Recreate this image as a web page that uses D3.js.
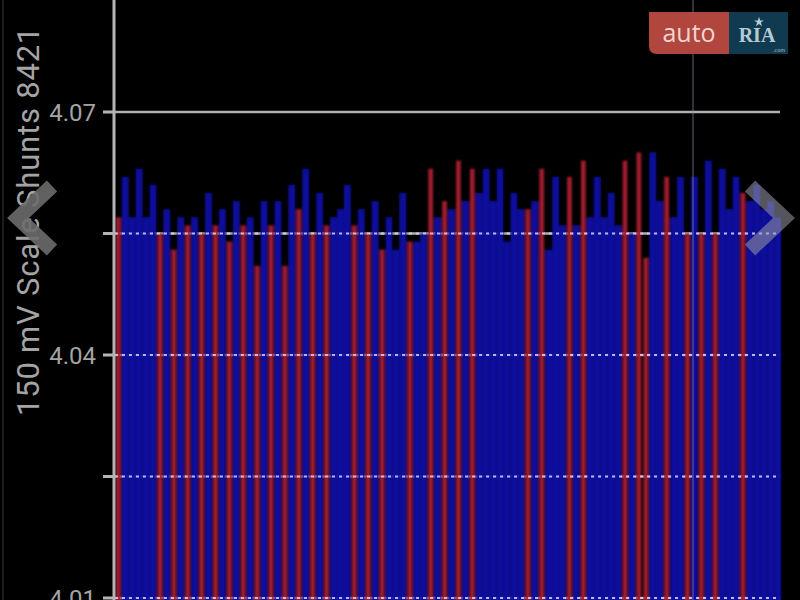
<!DOCTYPE html>
<html>
<head>
<meta charset="utf-8">
<script src="https://cdn.jsdelivr.net/npm/d3@7/dist/d3.min.js"></script>
<style>
    html, body { margin: 0; padding: 0; background: #000; }
    #chart { width: 800px; height: 600px; }
</style>
</head>
<body>
<div id="chart"></div>
<script>
// cell voltages (mV), one bar per cell
var cellVoltages = [
    4057, 4062, 4057, 4063, 4057, 4061, 4055, 4058, 4053, 4057,
    4056, 4057, 4055, 4060, 4056, 4058, 4054, 4059, 4056, 4057,
    4051, 4059, 4056, 4059, 4051, 4061, 4058, 4063, 4055, 4060,
    4056, 4057, 4058, 4061, 4056, 4058, 4055, 4059, 4053, 4057,
    4053, 4060, 4054, 4054, 4055, 4063, 4057, 4059, 4058, 4064,
    4059, 4063, 4060, 4063, 4059, 4063, 4054, 4060, 4058, 4058,
    4059, 4063, 4053, 4062, 4056, 4062, 4056, 4064, 4057, 4062,
    4057, 4060, 4056, 4064, 4055, 4065, 4052, 4065, 4059, 4062,
    4057, 4062, 4055, 4062, 4055, 4064, 4055, 4063, 4058, 4062,
    4060, 4059, 4061, 4058, 4059, 4057
];

// 1 = shunt active (red bar)
var shuntFlags = [
    1, 0, 0, 0, 0, 0, 1, 0, 1, 0,
    1, 0, 1, 0, 1, 0, 1, 0, 1, 0,
    1, 0, 1, 0, 1, 0, 1, 0, 1, 0,
    1, 0, 0, 0, 1, 0, 1, 0, 1, 0,
    0, 0, 1, 0, 0, 1, 0, 1, 0, 1,
    0, 1, 0, 0, 0, 0, 0, 0, 0, 1,
    0, 1, 0, 0, 0, 1, 0, 1, 0, 0,
    0, 0, 0, 1, 0, 1, 1, 0, 0, 1,
    0, 0, 1, 0, 1, 0, 1, 0, 0, 0,
    1, 0, 0, 0, 0, 0
];

var gridValues = [4.07, 4.055, 4.04, 4.025, 4.01];
var tickLabels = ["4.07", "", "4.04", "", "4.01"];
var axisTitle = "150 mV Scale   Shunts 8421";

function cellchart() {
    var width = 800,
        height = 600;

    var margin = {
        top: 112,
        right: 19,
        bottom: 2,
        left: 115
    };

    var _blue = '#1010a0',
        _red = '#a01f2e',
        _grid = '#b0b0b0',
        _text = '#a4a4a4';

    function chart(selection) {
        var svg = d3.select(selection).append('svg')
            .attr('width', width)
            .attr('height', height)
            .style('background', '#000')
            .style('display', 'block');

        var defs = svg.append('defs');
        defs.append('filter')
            .attr('id', 'soft')
            .attr('x', '-5%').attr('y', '-5%')
            .attr('width', '110%').attr('height', '110%')
            .append('feGaussianBlur')
            .attr('stdDeviation', 0.9);

        var x = d3.scaleBand()
            .domain(d3.range(cellVoltages.length))
            .range([margin.left, width - margin.right])
            .paddingInner(0.15)
            .paddingOuter(0.05);

        var y = d3.scaleLinear()
            .domain([4.01, 4.07])
            .range([height - margin.bottom, margin.top]);

        // faint frame line at the far left of the photo
        svg.append('line')
            .attr('x1', 3).attr('x2', 3)
            .attr('y1', 0).attr('y2', height)
            .style('stroke', '#1c1c1c')
            .style('stroke-width', 2);

        // solid grid behind the bars
        svg.append('g')
            .selectAll('line')
            .data(gridValues)
            .enter().append('line')
            .attr('x1', margin.left)
            .attr('x2', 780)
            .attr('y1', function (d) { return y(d); })
            .attr('y2', function (d) { return y(d); })
            .style('stroke', _grid)
            .style('stroke-width', 2.5);

        var bars = svg.append('g')
            .attr('filter', 'url(#soft)');

        bars.selectAll('rect')
            .data(cellVoltages)
            .enter().append('rect')
            .attr('x', function (d, i) {
                var w = shuntFlags[i] ? x.bandwidth() * 0.8 : x.bandwidth() + 0.8;
                return x(i) + (x.bandwidth() - w) / 2;
            })
            .attr('width', function (d, i) {
                return shuntFlags[i] ? x.bandwidth() * 0.8 : x.bandwidth() + 0.8;
            })
            .attr('y', function (d) { return y(d / 1000); })
            .attr('height', function (d) { return height + 10 - y(d / 1000); })
            .style('fill', function (d, i) { return shuntFlags[i] ? _red : _blue; });

        // dotted grid drawn over the bars
        svg.append('g')
            .selectAll('line')
            .data(gridValues.slice(1))
            .enter().append('line')
            .attr('x1', margin.left)
            .attr('x2', 780)
            .attr('y1', function (d) { return y(d); })
            .attr('y2', function (d) { return y(d); })
            .style('stroke', '#d4d4f4')
            .style('stroke-width', 2)
            .style('stroke-dasharray', '3,4')
            .style('opacity', 0.85);

        // axis line and ticks
        svg.append('line')
            .attr('x1', margin.left - 1).attr('x2', margin.left - 1)
            .attr('y1', 0).attr('y2', height)
            .style('stroke', '#b4b4b4')
            .style('stroke-width', 3);

        var ticks = svg.append('g');
        ticks.selectAll('line')
            .data(gridValues)
            .enter().append('line')
            .attr('x1', 103)
            .attr('x2', margin.left - 1)
            .attr('y1', function (d) { return y(d); })
            .attr('y2', function (d) { return y(d); })
            .style('stroke', '#b4b4b4')
            .style('stroke-width', 3);

        ticks.selectAll('text')
            .data(gridValues)
            .enter().append('text')
            .attr('x', 96)
            .attr('y', function (d) { return y(d); })
            .attr('dy', '0.36em')
            .attr('text-anchor', 'end')
            .style('font-family', 'Roboto, sans-serif')
            .style('font-size', '24px')
            .style('fill', _text)
            .text(function (d, i) { return tickLabels[i]; });

        svg.append('text')
            .attr('transform', 'translate(39,221) rotate(-90)')
            .attr('text-anchor', 'middle')
            .style('font-family', 'Roboto, sans-serif')
            .style('font-size', '31px')
            .style('letter-spacing', '0.8px')
            .style('fill', _text)
            .text(axisTitle);

        // cursor line
        svg.append('line')
            .attr('x1', 693).attr('x2', 693)
            .attr('y1', 0).attr('y2', height)
            .style('stroke', '#8a8aa8')
            .style('stroke-width', 1.2)
            .style('opacity', 0.6);

        // gallery arrows over the photo
        svg.append('path')
            .attr('d', 'M52,186 L18,218 L52,250')
            .style('fill', 'none')
            .style('stroke', '#6c6c6c')
            .style('stroke-width', 15)
            .style('stroke-linejoin', 'miter')
            .style('opacity', 0.9);

        svg.append('path')
            .attr('d', 'M750,186 L784,218 L750,250')
            .style('fill', 'none')
            .style('stroke', '#9a9aa6')
            .style('stroke-width', 15)
            .style('stroke-linejoin', 'miter')
            .style('opacity', 0.55);

        // watermark
        var logo = svg.append('g');
        logo.append('path')
            .attr('d', 'M649,12 H729 V54 H657 Q649,54 649,46 Z')
            .style('fill', '#b0463e');
        logo.append('rect')
            .attr('x', 729).attr('y', 12)
            .attr('width', 59).attr('height', 42)
            .style('fill', '#0f3a50');
        logo.append('text')
            .attr('x', 689).attr('y', 42)
            .attr('text-anchor', 'middle')
            .style('font-family', '"Open Sans", sans-serif')
            .style('font-size', '25px')
            .style('fill', '#f2d5cd')
            .text('auto');
        logo.append('text')
            .attr('x', 757).attr('y', 42)
            .attr('text-anchor', 'middle')
            .style('font-family', '"Liberation Serif", serif')
            .style('font-weight', 'bold')
            .style('font-size', '20px')
            .style('fill', '#b6cad4')
            .text('RIA');
        logo.append('path')
            .attr('d', d3.symbol().type(d3.symbolStar).size(30)())
            .attr('transform', 'translate(759,22)')
            .style('fill', '#b6cad4');
        logo.append('text')
            .attr('x', 779).attr('y', 52)
            .attr('text-anchor', 'middle')
            .style('font-family', 'DejaVu Sans, sans-serif')
            .style('font-size', '5px')
            .style('fill', '#b6cad4')
            .text('.com');
    }

    return chart;
}

var c = cellchart();
c(document.getElementById('chart'));
</script>
</body>
</html>
